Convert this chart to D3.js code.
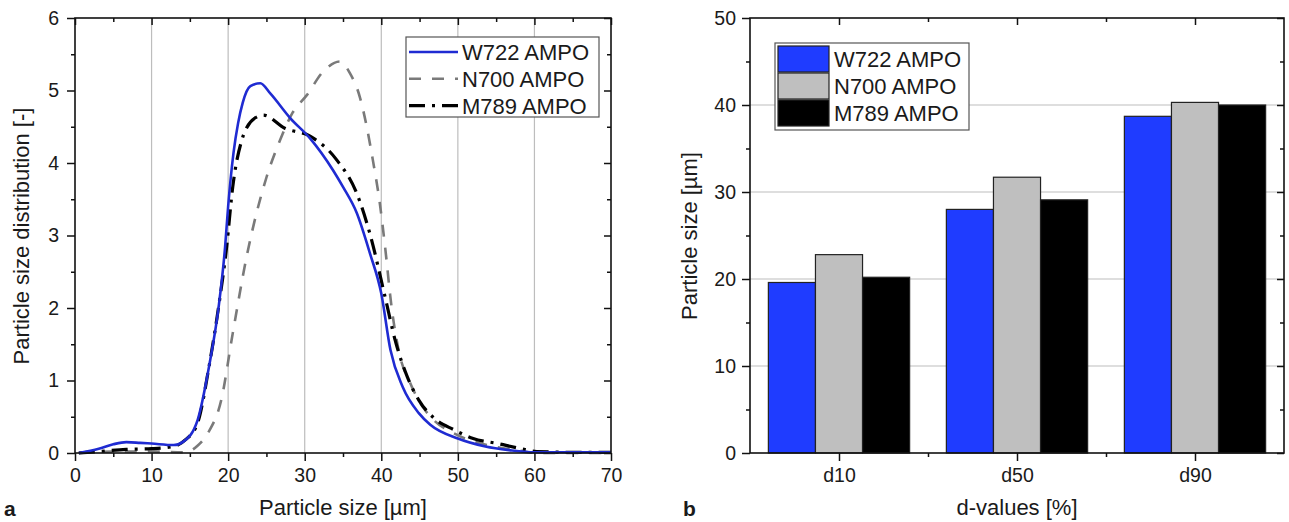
<!DOCTYPE html>
<html><head><meta charset="utf-8">
<script src="https://cdn.jsdelivr.net/npm/d3@7"></script>
<style>
body{margin:0;background:#fff}
text{font-family:"Liberation Sans",Arial,sans-serif;fill:#1a1a1a}
</style>
</head><body>
<svg id="c" width="1289" height="522"></svg>
<script>
// ---------- data ----------
const seriesNames = ["W722 AMPO", "N700 AMPO", "M789 AMPO"];

// Panel a: particle size distribution curves [size µm, distribution]
const w722Curve = [[0.5,0],[3.1,0.06],[5,0.12],[6.7,0.15],[8.5,0.14],[10,0.13],[12.9,0.11],[14.2,0.16],[16,0.45],[17.5,1.19],[18.8,2.05],[19.6,2.84],[20.0,3.4],[20.7,4.14],[21.3,4.55],[21.9,4.83],[22.9,5.06],[24.2,5.1],[25.5,4.96],[28.1,4.62],[30.7,4.34],[33.7,3.9],[35,3.67],[36.8,3.31],[38.5,2.76],[40,2.2],[41.2,1.42],[42.8,0.91],[44.9,0.55],[46.4,0.39],[50,0.2],[53.6,0.09],[56.7,0.04],[60,0.01],[65,0.01],[70,0.01]];
const n700Curve = [[0.5,0],[5,0.02],[10,0.02],[14.4,0.01],[16,0.1],[17.5,0.3],[19.1,0.73],[20.6,1.65],[22.4,2.7],[25,3.8],[26.8,4.32],[28.4,4.69],[30.3,4.94],[32.4,5.26],[34.6,5.4],[35.9,5.24],[37.2,4.91],[38.1,4.5],[38.9,4.04],[39.8,3.45],[40.5,2.84],[41.3,2.05],[42.3,1.4],[43.8,0.96],[45.4,0.64],[46.9,0.45],[49.5,0.27],[52,0.16],[55.2,0.08],[58.2,0.03],[60.3,0.0],[70,0.0]];
const m789Curve = [[0.5,0],[3,0.02],[6.7,0.05],[10,0.06],[12.9,0.09],[14.4,0.18],[16,0.41],[17.5,1.19],[18.8,2.05],[19.8,2.84],[20.6,3.67],[21.8,4.32],[23.5,4.62],[24.6,4.66],[27.4,4.48],[30.7,4.37],[34.2,4.04],[36.8,3.58],[38.5,3.03],[40.5,2.15],[41.8,1.56],[43.4,1.05],[44.9,0.73],[46.9,0.48],[49.5,0.32],[52,0.2],[55.2,0.13],[58.2,0.06],[60.3,0.02],[65,0.01],[70,0.01]];

// Panel b: d-values [µm]
const dCategories = ["d10", "d50", "d90"];
const w722D = [19.6, 28.0, 38.7];
const n700D = [22.8, 31.7, 40.3];
const m789D = [20.2, 29.1, 40.0];

// ticks
const aXTicks = [0,10,20,30,40,50,60,70];
const aXMinor = [5,15,25,35,45,55,65];
const aYTicks = [0,1,2,3,4,5,6];
const aYMinor = [0.5,1.5,2.5,3.5,4.5,5.5];
const aGrid = [10,20,30,40,50,60];
const bYTicks = [0,10,20,30,40,50];
const bYMinor = [5,15,25,35,45];
const bGrid = [10,20,30,40];

// ---------- drawing ----------
const svg = d3.select("#c");
const TICK_FS = 19.5, TITLE_FS = 22, LEG_FS = 22;
const FONT = '"Liberation Sans",Arial,sans-serif';

function styleAxes(g) {
  g.selectAll(".domain").remove();
  g.selectAll(".tick line").attr("stroke", "#111").attr("stroke-width", 1.5);
  g.selectAll(".tick text").attr("font-size", TICK_FS).attr("font-family", FONT).attr("fill", "#1a1a1a");
}

// ===== Panel a =====
const ga = svg.append("g");
const xa = d3.scaleLinear().domain([0, 70]).range([75, 611]);
const ya = d3.scaleLinear().domain([0, 6]).range([453, 18]);

ga.append("g").selectAll("line").data(aGrid).join("line")
  .attr("x1", d => xa(d)).attr("x2", d => xa(d)).attr("y1", ya(0)).attr("y2", ya(6))
  .attr("stroke", "#bdbdbd").attr("stroke-width", 1.2);

const lineA = d3.line().x(d => xa(d[0])).y(d => ya(d[1])).curve(d3.curveMonotoneX);
const styles = [
  {color: "#1f2bd2", width: 2.6, dash: null},
  {color: "#7a7a7a", width: 2.6, dash: "12,11"},
  {color: "#000000", width: 3.2, dash: "16,7,3,7"}
];
const curves = [w722Curve, n700Curve, m789Curve];
[1, 2, 0].forEach(i => {
  ga.append("path").datum(curves[i]).attr("d", lineA).attr("fill", "none")
    .attr("stroke", styles[i].color).attr("stroke-width", styles[i].width)
    .attr("stroke-dasharray", styles[i].dash).attr("stroke-linejoin", "round");
});

(function () {
  const g = ga.append("g");
  const fmt = d3.format("d");
  g.append("g").attr("transform", "translate(0,453)")
    .call(d3.axisBottom(xa).tickValues(aXTicks).tickSize(8).tickPadding(7).tickSizeOuter(0).tickFormat(fmt));
  g.append("g").attr("transform", "translate(0,453)")
    .call(d3.axisBottom(xa).tickValues(aXMinor).tickSize(4).tickSizeOuter(0).tickFormat(""));
  g.append("g").attr("transform", "translate(0,18)")
    .call(d3.axisTop(xa).tickValues(aXTicks).tickSize(-7).tickSizeOuter(0).tickFormat(""));
  g.append("g").attr("transform", "translate(0,18)")
    .call(d3.axisTop(xa).tickValues(aXMinor).tickSize(-4).tickSizeOuter(0).tickFormat(""));
  g.append("g").attr("transform", "translate(75,0)")
    .call(d3.axisLeft(ya).tickValues(aYTicks).tickSize(8).tickPadding(8).tickSizeOuter(0).tickFormat(fmt));
  g.append("g").attr("transform", "translate(75,0)")
    .call(d3.axisLeft(ya).tickValues(aYMinor).tickSize(4).tickSizeOuter(0).tickFormat(""));
  g.append("g").attr("transform", "translate(611,0)")
    .call(d3.axisRight(ya).tickValues(aYTicks).tickSize(-7).tickSizeOuter(0).tickFormat(""));
  g.append("g").attr("transform", "translate(611,0)")
    .call(d3.axisRight(ya).tickValues(aYMinor).tickSize(-4).tickSizeOuter(0).tickFormat(""));
  styleAxes(g);
  g.append("rect").attr("x", 75).attr("y", 18).attr("width", 536).attr("height", 435)
    .attr("fill", "none").attr("stroke", "#111").attr("stroke-width", 1.6);
})();

// legend a
const la = ga.append("g");
la.append("rect").attr("x", 406).attr("y", 37).attr("width", 193).attr("height", 80)
  .attr("fill", "#fff").attr("stroke", "#555").attr("stroke-width", 1.2);
seriesNames.forEach((n, i) => {
  const yy = 52 + i * 26.8;
  la.append("line").attr("x1", 409).attr("x2", 458).attr("y1", yy).attr("y2", yy)
    .attr("stroke", styles[i].color).attr("stroke-width", styles[i].width)
    .attr("stroke-dasharray", styles[i].dash);
  la.append("text").attr("x", 462).attr("y", yy + 8).attr("font-size", LEG_FS).text(n);
});

ga.append("text").attr("x", 343).attr("y", 515).attr("text-anchor", "middle")
  .attr("font-size", TITLE_FS).text("Particle size [µm]");
ga.append("text").attr("transform", "translate(28.5,236) rotate(-90)").attr("text-anchor", "middle")
  .attr("font-size", TITLE_FS).text("Particle size distribution [-]");
ga.append("text").attr("x", 4).attr("y", 516).attr("font-size", 21).attr("font-weight", "bold").text("a");

// ===== Panel b =====
const gb = svg.append("g");
const xb = d3.scaleBand().domain(dCategories).range([750, 1284]).paddingInner(0).paddingOuter(0);
const yb = d3.scaleLinear().domain([0, 50]).range([453, 18]);
const xSub = d3.scaleBand().domain(seriesNames).range([0, xb.bandwidth()]).paddingOuter(0.39).paddingInner(0);

gb.append("g").selectAll("line").data(bGrid).join("line")
  .attr("x1", 750).attr("x2", 1284).attr("y1", d => yb(d)).attr("y2", d => yb(d))
  .attr("stroke", "#bdbdbd").attr("stroke-width", 1.2);

const barColors = ["#1f3cff", "#bfbfbf", "#000000"];
const barValues = [w722D, n700D, m789D];
const barData = [];
dCategories.forEach((c, ci) => seriesNames.forEach((s, si) => barData.push({c, s, si, v: barValues[si][ci]})));
gb.append("g").selectAll("rect").data(barData).join("rect")
  .attr("x", d => xb(d.c) + xSub(d.s)).attr("width", xSub.bandwidth())
  .attr("y", d => yb(d.v)).attr("height", d => yb(0) - yb(d.v))
  .attr("fill", d => barColors[d.si]).attr("stroke", "#222").attr("stroke-width", 1.2);

const xbCenter = d3.scalePoint().domain(dCategories)
  .range([xb("d10") + xb.bandwidth() / 2, xb("d90") + xb.bandwidth() / 2]);
const xbLin = d3.scaleLinear().domain([0, dCategories.length]).range(xb.range());
(function () {
  const g = gb.append("g");
  g.append("g").attr("transform", "translate(0,453)")
    .call(d3.axisBottom(xbCenter).tickSize(8).tickPadding(7).tickSizeOuter(0));
  g.append("g").attr("transform", "translate(0,453)")
    .call(d3.axisBottom(xbLin).tickValues([1, 2]).tickSize(4).tickSizeOuter(0).tickFormat(""));
  g.append("g").attr("transform", "translate(0,18)")
    .call(d3.axisTop(xbCenter).tickSize(-7).tickSizeOuter(0).tickFormat(""));
  g.append("g").attr("transform", "translate(0,18)")
    .call(d3.axisTop(xbLin).tickValues([1, 2]).tickSize(-4).tickSizeOuter(0).tickFormat(""));
  g.append("g").attr("transform", "translate(750,0)")
    .call(d3.axisLeft(yb).tickValues(bYTicks).tickSize(8).tickPadding(6).tickSizeOuter(0));
  g.append("g").attr("transform", "translate(750,0)")
    .call(d3.axisLeft(yb).tickValues(bYMinor).tickSize(4).tickSizeOuter(0).tickFormat(""));
  g.append("g").attr("transform", "translate(1284,0)")
    .call(d3.axisRight(yb).tickValues(bYTicks).tickSize(-7).tickSizeOuter(0).tickFormat(""));
  g.append("g").attr("transform", "translate(1284,0)")
    .call(d3.axisRight(yb).tickValues(bYMinor).tickSize(-4).tickSizeOuter(0).tickFormat(""));
  styleAxes(g);
  g.append("rect").attr("x", 750).attr("y", 18).attr("width", 534).attr("height", 435)
    .attr("fill", "none").attr("stroke", "#111").attr("stroke-width", 1.6);
})();

// legend b
const lb = gb.append("g");
lb.append("rect").attr("x", 775).attr("y", 43).attr("width", 194).attr("height", 87)
  .attr("fill", "#fff").attr("stroke", "#555").attr("stroke-width", 1.2);
seriesNames.forEach((n, i) => {
  const top = 46 + i * 27;
  lb.append("rect").attr("x", 778).attr("y", top).attr("width", 51).attr("height", 26)
    .attr("fill", barColors[i]).attr("stroke", "#222").attr("stroke-width", 1.2);
  lb.append("text").attr("x", 834).attr("y", top + 21).attr("font-size", LEG_FS).text(n);
});

gb.append("text").attr("x", 1017).attr("y", 515).attr("text-anchor", "middle")
  .attr("font-size", TITLE_FS).text("d-values [%]");
gb.append("text").attr("transform", "translate(697,236) rotate(-90)").attr("text-anchor", "middle")
  .attr("font-size", TITLE_FS).text("Particle size [µm]");
gb.append("text").attr("x", 683).attr("y", 516).attr("font-size", 21).attr("font-weight", "bold").text("b");
</script>
</body></html>
